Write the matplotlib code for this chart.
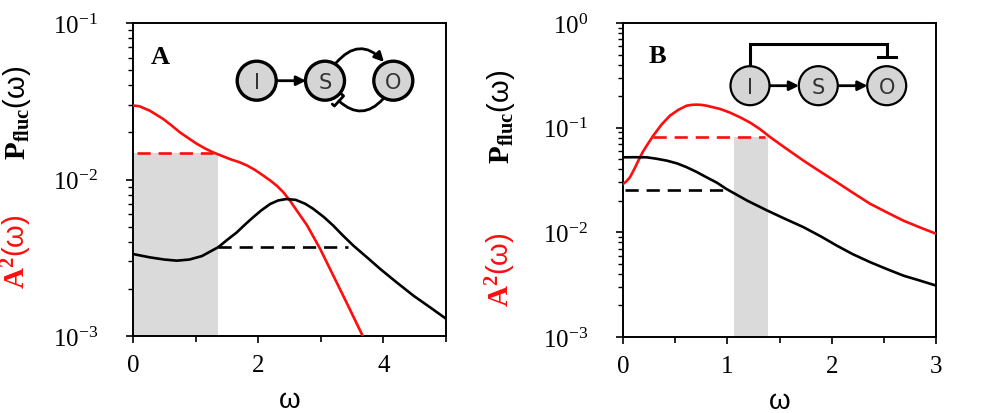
import matplotlib
matplotlib.use('Agg')
from matplotlib import pyplot as plt
from matplotlib.patches import Circle, FancyArrowPatch
import numpy as np

plt.rcParams['font.family'] = 'Liberation Serif'
plt.rcParams['mathtext.fontset'] = 'custom'
plt.rcParams['mathtext.rm'] = 'Liberation Serif'
plt.rcParams['mathtext.it'] = 'Liberation Serif:italic'
plt.rcParams['mathtext.bf'] = 'Liberation Serif:bold'

RED = '#ff0d0d'
SHADE = '#dadada'

# panel A : feed-forward loop with feedback
omega_a_red = [0, 0.10, 0.27, 0.48, 0.60, 0.75, 0.90, 1.02, 1.15, 1.28, 1.55, 1.70, 1.82,
               1.95, 2.08, 2.20, 2.30, 2.40, 2.50, 2.62, 2.78, 2.99, 3.20, 3.41, 3.67, 3.80]
amp_a = [0.0297, 0.0294, 0.0275, 0.0244, 0.0224, 0.0200, 0.0182, 0.0169, 0.0158, 0.0149,
         0.0135, 0.0129, 0.0123, 0.0115, 0.0106, 0.0098, 0.0091, 0.0083, 0.0074, 0.0063,
         0.0051, 0.0036, 0.00243, 0.00164, 0.00100, 0.00079]
omega_a_blk = [0, 0.27, 0.50, 0.70, 0.90, 1.10, 1.36, 1.50, 1.66, 1.80, 1.92, 2.05, 2.19,
               2.32, 2.45, 2.60, 2.75, 2.88, 3.05, 3.20, 3.35, 3.52, 3.75, 3.95, 4.20,
               4.48, 4.75, 5.0]
pfluc_a = [0.00334, 0.00318, 0.00308, 0.00303, 0.00308, 0.00324, 0.00369, 0.00410, 0.00460,
           0.00520, 0.00574, 0.00635, 0.00697, 0.00735, 0.00750, 0.00741, 0.00700, 0.00649,
           0.00575, 0.00507, 0.00440, 0.00378, 0.00315, 0.00268, 0.00222, 0.00181, 0.00152,
           0.00129]
a_red_dash = (0.06, 1.27, 0.0147)
a_blk_dash = (1.36, 3.44, 0.00369)
a_shade = (0.0, 1.36, 0.0147)

# panel B : incoherent feed-forward
omega_b_red = [0, 0.03, 0.067, 0.107, 0.147, 0.187, 0.227, 0.29, 0.37, 0.45, 0.53, 0.61,
               0.66, 0.70, 0.75, 0.80, 0.93, 1.02, 1.12, 1.22, 1.31, 1.41, 1.55, 1.73,
               1.90, 2.05, 2.20, 2.37, 2.53, 2.69, 2.85, 3.0]
amp_b = [0.0290, 0.0305, 0.0336, 0.0400, 0.0484, 0.0580, 0.0673, 0.0839, 0.1072, 0.1303,
         0.1479, 0.1622, 0.1652, 0.1660, 0.1652, 0.1622, 0.1510, 0.1400, 0.1259, 0.1115,
         0.0973, 0.0813, 0.0646, 0.0484, 0.0375, 0.0301, 0.0240, 0.0187, 0.0155, 0.0129,
         0.0111, 0.0097]
omega_b_blk = [0, 0.10, 0.227, 0.32, 0.42, 0.52, 0.61, 0.70, 0.80, 0.90, 0.99, 1.19, 1.38,
               1.55, 1.73, 1.90, 2.05, 2.20, 2.37, 2.53, 2.69, 2.85, 3.0]
pfluc_b = [0.0521, 0.0522, 0.0521, 0.0505, 0.0484, 0.0455, 0.0419, 0.0380, 0.0336, 0.0298,
           0.0260, 0.0201, 0.0162, 0.0135, 0.0112, 0.0091, 0.00746, 0.00620, 0.00518,
           0.00445, 0.00385, 0.00345, 0.00310]
b_red_dash = (0.29, 1.36, 0.082)
b_blk_dash = (0.02, 0.99, 0.0256)
b_shade = (1.065, 1.393, 0.082)

W, H = 989, 414
fig = plt.figure(figsize=(W / 100, H / 100), dpi=100)
axA = fig.add_axes([133 / W, (H - 337) / H, 313 / W, 313 / H])
axB = fig.add_axes([623 / W, (H - 338) / H, 313 / W, 314 / H])


def draw_panel(ax, om_r, amp, om_b, pf, rdash, bdash, shade, xmax, ymin, ymax, xmaj, xmin_t):
    ax.set_yscale('log')
    ax.fill_between([shade[0], shade[1]], ymin, shade[2], color=SHADE, lw=0, zorder=1)
    ax.plot(om_r, amp, color=RED, lw=1.9, zorder=3, solid_joinstyle='round')
    ax.plot(om_b, pf, color='black', lw=1.9, zorder=3, solid_joinstyle='round')
    ax.plot([rdash[0], rdash[1]], [rdash[2], rdash[2]], color=RED, lw=1.9,
            dashes=(5, 3), zorder=2)
    ax.plot([bdash[0], bdash[1]], [bdash[2], bdash[2]], color='black', lw=1.9,
            dashes=(5, 3), zorder=2)
    ax.set_xlim(0, xmax)
    ax.set_ylim(ymin, ymax)
    ax.set_xticks(xmaj)
    ax.set_xticks(xmin_t, minor=True)
    ax.set_xticklabels([str(v) for v in xmaj])
    for s in ax.spines.values():
        s.set_linewidth(1.4)
    ax.tick_params(which='both', direction='out', top=False, right=False, width=1.2)
    ax.tick_params(axis='y', which='major', length=5, pad=20, labelsize=18)
    ax.tick_params(axis='y', which='minor', length=3.5, width=1.0)
    ax.tick_params(axis='x', which='major', length=5, pad=8, labelsize=18)
    ax.tick_params(axis='x', which='minor', length=4)
    ax.set_xlabel('ω', fontfamily='Liberation Sans', fontsize=20, labelpad=8)


draw_panel(axA, omega_a_red, amp_a, omega_a_blk, pfluc_a, a_red_dash, a_blk_dash, a_shade,
           5, 1e-3, 1e-1, [0, 2, 4], [1, 3, 5])
draw_panel(axB, omega_b_red, amp_b, omega_b_blk, pfluc_b, b_red_dash, b_blk_dash, b_shade,
           3, 1e-3, 1e0, [0, 1, 2, 3], [0.5, 1.5, 2.5])

# y labels (two colours)
for xc, yp, ya in [(17, 113, 252), (501, 117, 270)]:
    fig.text(xc / W, 1 - yp / H, r'$\mathbf{P}_{\mathbf{fluc}}$(ω)', rotation=90,
             ha='center', va='center', fontfamily='Liberation Sans', fontsize=21,
             color='black')
    fig.text(xc / W, 1 - ya / H, r'$\mathbf{A}^{\mathbf{2}}$(ω)', rotation=90,
             ha='center', va='center', fontfamily='Liberation Sans', fontsize=21,
             color=RED)

# panel letters
fig.text(160 / W, 1 - 58 / H, 'A', fontsize=19, fontweight='bold', ha='center', va='center')
fig.text(657 / W, 1 - 57 / H, 'B', fontsize=19, fontweight='bold', ha='center', va='center')

# network diagrams in pixel coordinates
ov = fig.add_axes([0, 0, 1, 1], zorder=10)
ov.set_xlim(0, W)
ov.set_ylim(H, 0)
ov.axis('off')
ov.patch.set_alpha(0)


def node(x, y, label, lw):
    ov.add_patch(Circle((x, y), 19.5, fc='#d5d5d5', ec='black', lw=lw, zorder=5))
    ov.text(x, y + 1, label, ha='center', va='center', fontfamily='DejaVu Sans',
            fontsize=15, color='#333333', zorder=6)


def arrow(p0, p1, style='-|>', conn='arc3', lw=2.0):
    ov.add_patch(FancyArrowPatch(p0, p1, arrowstyle=style, connectionstyle=conn,
                                 mutation_scale=14, lw=lw, color='black', zorder=4,
                                 shrinkA=0, shrinkB=0))


ya = 81.7
for x, lab in [(256.7, 'I'), (325, 'S'), (393.3, 'O')]:
    node(x, ya, lab, 2.4)
arrow((277, ya), (306, ya))
arrow((336, 64), (384, 63), conn='arc3,rad=-0.55')
arrow((383, 100), (339, 102), style='-[,widthB=0.35,lengthB=0.15', conn='arc3,rad=-0.5')

yb = 86.7
for x, lab in [(750, 'I'), (818.3, 'S'), (886.7, 'O')]:
    node(x, yb, lab, 1.6)
arrow((770, yb), (799, yb))
arrow((838.5, yb), (867.5, yb))
ov.plot([750, 750, 886.7, 886.7], [66, 45, 45, 58], color='black', lw=2.2,
        solid_joinstyle='miter', zorder=4)
ov.plot([878, 896], [58, 58], color='black', lw=2.2, zorder=4)

fig.savefig('out.png', dpi=100)
